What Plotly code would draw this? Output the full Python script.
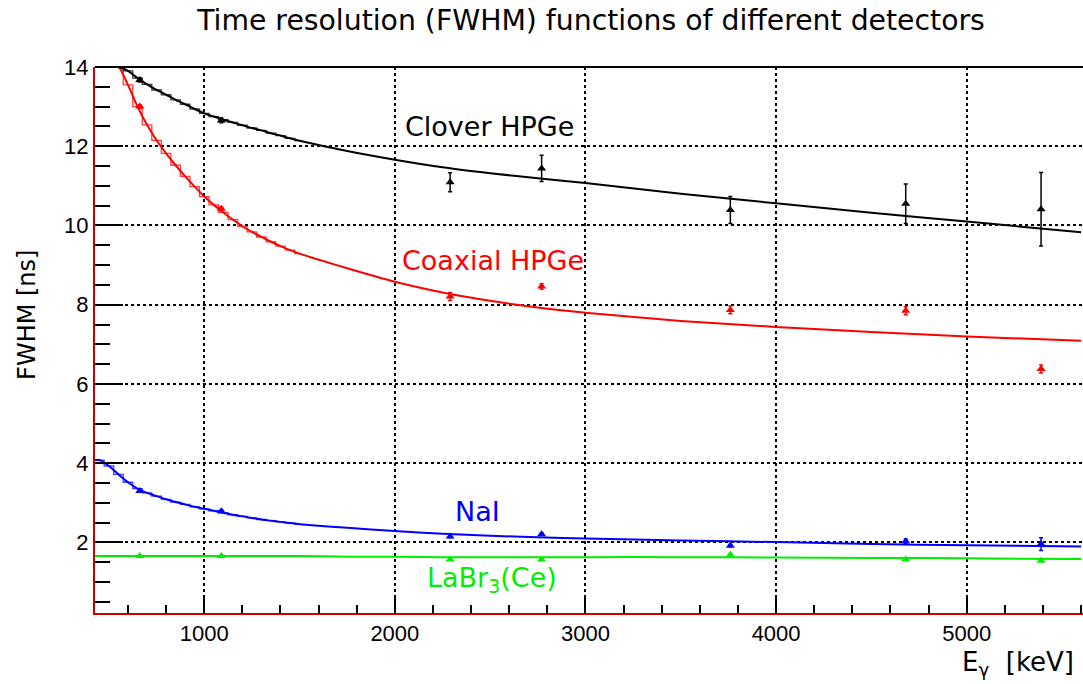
import plotly.graph_objects as go

# ---------------- data ----------------
# energy grid of the fitted resolution functions [keV]
energy_grid = [425, 450, 500, 550, 600, 650, 700, 750, 800, 850, 900, 950, 1000,
               1050, 1100, 1150, 1200, 1250, 1300, 1350, 1400, 1450, 1500,
               1750, 2000, 2250, 2500, 2750, 3000, 3500, 4000, 4500, 5000, 5600]
n_step = 23  # number of leading grid points that show the histogram steps

clover_curve = [14.0, 14.0, 14.0, 14.0, 13.90, 13.72, 13.56, 13.42, 13.30, 13.17, 13.06, 12.94, 12.83,
                12.75, 12.67, 12.60, 12.53, 12.46, 12.40, 12.33, 12.27, 12.20, 12.14,
                11.88, 11.66, 11.47, 11.32, 11.19, 11.07, 10.80, 10.56, 10.32, 10.10, 9.83]
coaxial_curve = [14.0, 14.0, 14.0, 14.0, 13.55, 13.00, 12.54, 12.15, 11.82, 11.52, 11.24, 10.98, 10.73,
                 10.52, 10.33, 10.15, 9.98, 9.84, 9.71, 9.59, 9.48, 9.38, 9.29,
                 8.92, 8.58, 8.31, 8.10, 7.93, 7.80, 7.59, 7.44, 7.31, 7.20, 7.09]
nai_curve = [4.08, 4.08, 3.93, 3.72, 3.52, 3.36, 3.25, 3.17, 3.09, 3.02, 2.96, 2.90, 2.85,
             2.80, 2.75, 2.70, 2.66, 2.62, 2.58, 2.55, 2.52, 2.49, 2.46,
             2.37, 2.29, 2.22, 2.17, 2.13, 2.10, 2.05, 2.01, 1.96, 1.93, 1.90]
labr_curve = [1.66, 1.66, 1.66, 1.66, 1.66, 1.66, 1.66, 1.66, 1.66, 1.66, 1.66, 1.66, 1.66,
              1.66, 1.66, 1.66, 1.66, 1.66, 1.66, 1.66, 1.66, 1.66, 1.66,
              1.64, 1.64, 1.63, 1.63, 1.63, 1.63, 1.63, 1.62, 1.61, 1.60, 1.58]

# measured points
energy_pts = [662, 1090, 2290, 2770, 3760, 4680, 5390]
clover_pts = [13.67, 12.65, 11.09, 11.44, 10.39, 10.55, 10.41]
clover_err = [0.05, 0.06, 0.24, 0.33, 0.34, 0.50, 0.93]
coaxial_pts = [13.00, 10.42, 8.21, 8.46, 7.87, 7.85, 6.38]
coaxial_err = [0.05, 0.05, 0.10, 0.07, 0.10, 0.10, 0.10]
nai_pts = [3.30, 2.79, 2.15, 2.21, 1.92, 2.03, 1.96]
nai_err = [0.03, 0.03, 0.03, 0.03, 0.03, 0.06, 0.16]
labr_pts = [1.66, 1.66, 1.57, 1.57, 1.69, 1.57, 1.54]
labr_err = [0.02, 0.02, 0.02, 0.02, 0.02, 0.02, 0.02]

x_ticks = [1000, 2000, 3000, 4000, 5000]
y_ticks = [2, 4, 6, 8, 10, 12, 14]

title = "Time resolution (FWHM) functions of different detectors"
labels = ["Clover HPGe", "Coaxial HPGe", "NaI", "LaBr<sub>3</sub>(Ce)"]
label_pos = [(2494, 12.49), (2515, 9.11), (2436, 2.78), (2508, 1.06)]

# ---------------- figure ----------------
series = [
    (labr_curve, labr_pts, labr_err, "#00ee00", False),
    (nai_curve, nai_pts, nai_err, "#0000ff", True),
    (coaxial_curve, coaxial_pts, coaxial_err, "#ff0000", True),
    (clover_curve, clover_pts, clover_err, "#000000", True),
]
label_colors = ["#000000", "#ff0000", "#0000ff", "#00ee00"]

fig = go.Figure()
for curve, pts, err, col, steps in series:
    if steps:
        fig.add_trace(go.Scatter(
            x=energy_grid[:n_step], y=curve[:n_step], mode="lines",
            line=dict(color=col, width=1.3, shape="hvh"), opacity=0.75,
            hoverinfo="skip", showlegend=False))
    fig.add_trace(go.Scatter(
        x=energy_grid, y=curve, mode="lines",
        line=dict(color=col, width=2, shape="spline", smoothing=0.6),
        showlegend=False))
    fig.add_trace(go.Scatter(
        x=energy_pts, y=pts, mode="markers",
        marker=dict(symbol="triangle-up", size=8, color=col),
        error_y=dict(type="data", array=err, color=col, thickness=1.5, width=2),
        showlegend=False))

for text, (ex, ey), col in zip(labels, label_pos, label_colors):
    fig.add_annotation(x=ex, y=ey, xref="x", yref="y", text=text, showarrow=False,
                       font=dict(family="DejaVu Sans", size=27, color=col),
                       xanchor="center", yanchor="middle")

fig.add_annotation(x=-0.0688, y=0.546, xref="paper", yref="paper", text="FWHM [ns]",
                   textangle=-90, showarrow=False, xanchor="center", yanchor="middle",
                   font=dict(family="DejaVu Sans", size=24, color="#000000"))
fig.add_annotation(x=0.993, y=-0.092, xref="paper", yref="paper",
                   text="E<sub>γ</sub>&nbsp; [keV]", showarrow=False,
                   xanchor="right", yanchor="middle",
                   font=dict(family="DejaVu Sans", size=26, color="#000000"))

fig.add_shape(type="line", xref="paper", yref="paper", x0=0, x1=1, y0=1, y1=1,
              line=dict(color="#000000", width=2))

axis_common = dict(
    showgrid=True, gridcolor="#000000", gridwidth=1.5, griddash="dot",
    ticks="inside", tickcolor="#000000", tickwidth=1.5,
    showline=True, linecolor="#cc0000", linewidth=2,
    zeroline=False, tickfont=dict(family="Liberation Sans", size=22, color="#000000"),
)

fig.update_layout(
    width=1083, height=684,
    margin=dict(l=95, r=0, t=67, b=71),
    paper_bgcolor="white", plot_bgcolor="white",
    title=dict(text=title, x=591 / 1083, xanchor="center", xref="container",
               y=1 - 20 / 684, yanchor="middle", yref="container",
               font=dict(family="DejaVu Sans", size=28.3, color="#000000")),
    xaxis=dict(range=[427, 5610], tickvals=x_ticks, ticklen=17,
               minor=dict(dtick=200, tick0=0, ticks="inside", ticklen=8,
                          tickcolor="#000000", tickwidth=1.5, showgrid=False),
               **axis_common),
    yaxis=dict(range=[0.22, 14], tickvals=y_ticks, ticklen=28,
               minor=dict(dtick=0.5, tick0=0, ticks="inside", ticklen=15,
                          tickcolor="#000000", tickwidth=1.5, showgrid=False),
               **axis_common),
    showlegend=False,
)

fig.write_html("out.html", config={"displayModeBar": False},
               post_script="document.body.style.margin='0px';document.body.style.overflow='hidden';")
